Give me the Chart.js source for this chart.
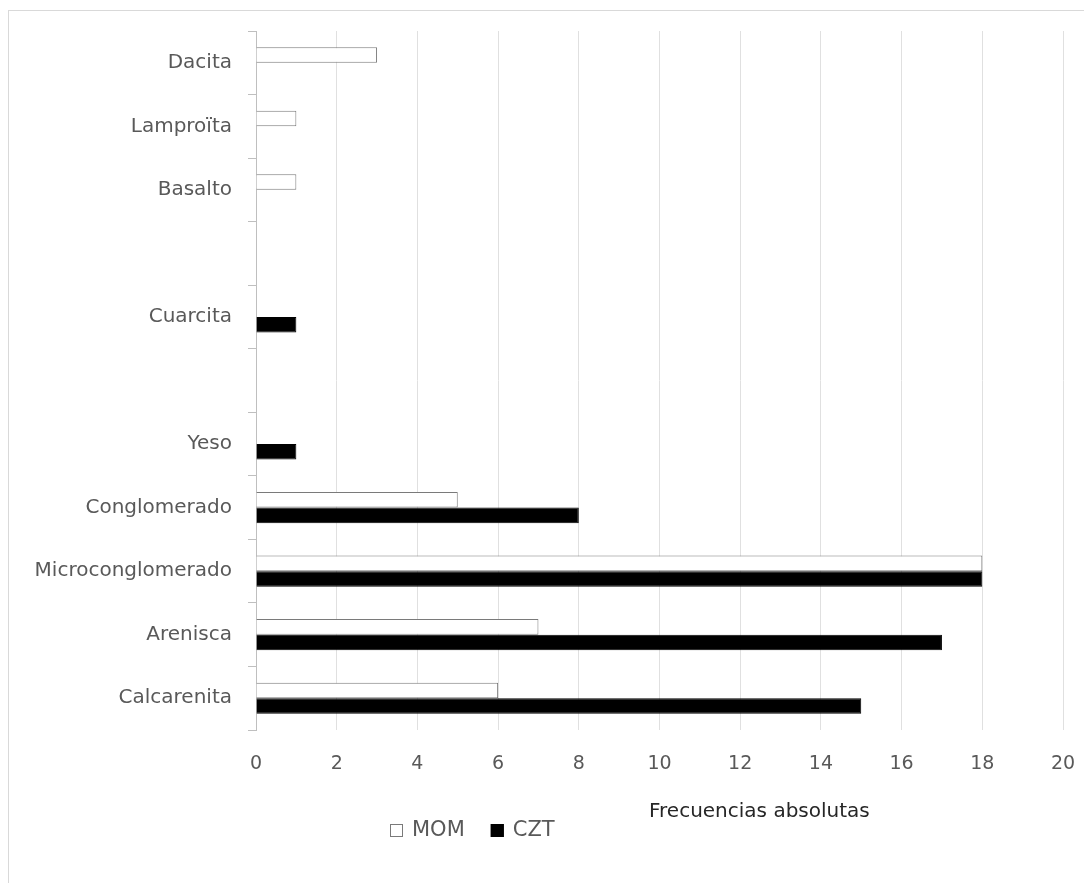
<!DOCTYPE html>
<html>
<head>
<meta charset="utf-8">
<script src="https://cdn.jsdelivr.net/npm/chart.js@4/dist/chart.umd.min.js"></script>
<style>
  html, body { margin: 0; padding: 0; background: #fff; }
  canvas { display: block; }
</style>
</head>
<body>
<canvas id="rockChart" width="1084" height="883"></canvas>
<script>
// categories, top to bottom (two empty rows in the original)
const rockTypes = ["Dacita", "Lamproïta", "Basalto", "", "Cuarcita", "", "Yeso",
  "Conglomerado", "Microconglomerado", "Arenisca", "Calcarenita"];
const momValues = [3, 1, 1, null, null, null, null, 5, 18, 7, 6];
const cztValues = [null, null, null, null, 1, null, 1, 8, 18, 17, 15];
const xTicks = [0, 2, 4, 6, 8, 10, 12, 14, 16, 18, 20];
const axisTitle = "Frecuencias absolutas";

const FONT = "'DejaVu Sans', sans-serif";
Chart.defaults.font.family = FONT;

// frame, custom legend and axis title
const extras = {
  id: "extras",
  afterDraw(chart) {
    const ctx = chart.ctx;
    const area = chart.chartArea;
    ctx.save();
    // outer frame
    ctx.strokeStyle = "#d9d9d9";
    ctx.lineWidth = 1;
    ctx.strokeRect(8.5, 10.5, 1100, 900);

    // axis title
    ctx.fillStyle = "#262626";
    ctx.font = "20px " + FONT;
    ctx.textBaseline = "middle";
    ctx.textAlign = "left";
    ctx.fillText(axisTitle, area.left + 393, area.bottom + 82);

    // legend
    let x = area.left + 134;
    const y = area.bottom + 100;
    ctx.font = "21px " + FONT;
    chart.data.datasets.forEach(ds => {
      ctx.fillStyle = ds.backgroundColor;
      ctx.fillRect(x, y - 6, 13, 13);
      ctx.strokeStyle = ds.borderColor;
      ctx.strokeRect(x + 0.5, y - 5.5, 12, 12);
      ctx.fillStyle = "#595959";
      ctx.fillText(ds.label, x + 22, y + 1);
      x += 22 + ctx.measureText(ds.label).width + 26;
    });
    ctx.restore();
  }
};

const canvas = document.getElementById("rockChart");
new Chart(canvas, {
  type: "bar",
  data: {
    labels: rockTypes,
    datasets: [
      {
        label: "MOM",
        data: momValues,
        backgroundColor: "#ffffff",
        borderColor: "#7a7a7a",
        borderWidth: 1
      },
      {
        label: "CZT",
        data: cztValues,
        backgroundColor: "#000000",
        borderColor: "#000000",
        borderWidth: 1
      }
    ]
  },
  options: {
    indexAxis: "y",
    responsive: false,
    animation: false,
    devicePixelRatio: 1,
    layout: { padding: { top: 31, right: 21, left: 0, bottom: 0 } },
    datasets: { bar: { categoryPercentage: 0.49, barPercentage: 1 } },
    plugins: {
      legend: { display: false },
      tooltip: { enabled: false }
    },
    scales: {
      x: {
        min: 0,
        max: 20,
        afterBuildTicks: axis => { axis.ticks = xTicks.map(v => ({ value: v })); },
        grid: { color: "#e0e0e0", drawTicks: false },
        border: { display: false },
        ticks: { color: "#595959", font: { size: 19 }, padding: 23 },
        afterFit: axis => {
          axis.height = 153;
          axis.paddingLeft = 0;
          axis.paddingRight = 0;
        }
      },
      y: {
        grid: { drawOnChartArea: false, drawTicks: true, tickLength: 8, color: "#bfbfbf" },
        border: { color: "#bfbfbf" },
        ticks: { color: "#595959", font: { size: 20 }, padding: 16, autoSkip: false },
        afterFit: axis => {
          axis.width = 256;
          axis.paddingTop = 0;
          axis.paddingBottom = 0;
        }
      }
    }
  },
  plugins: [extras]
});
</script>
</body>
</html>
